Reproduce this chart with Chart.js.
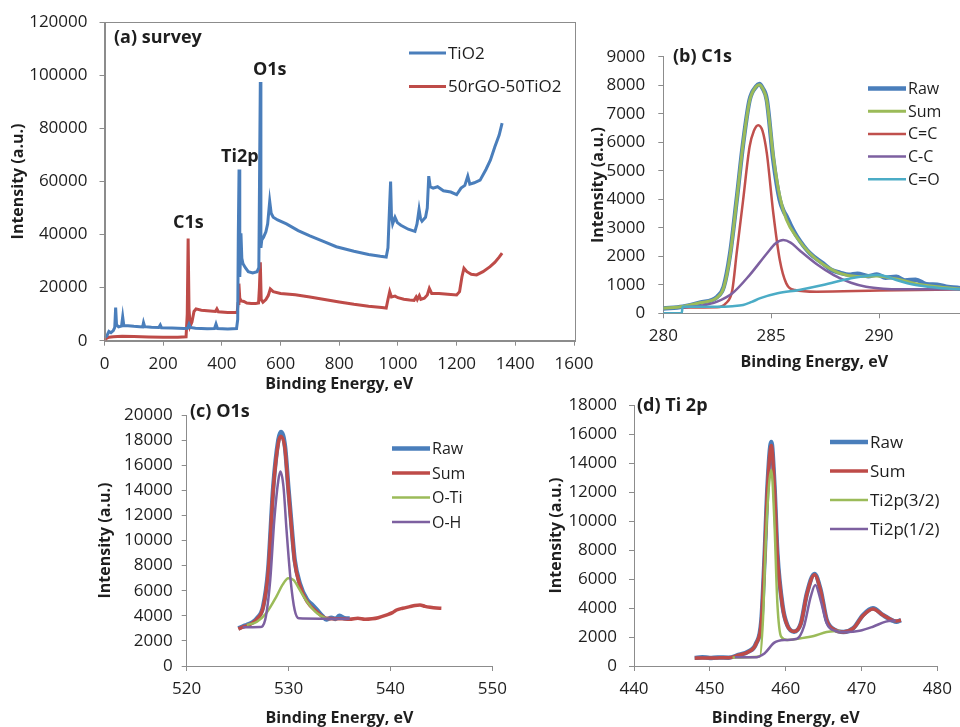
<!DOCTYPE html>
<html>
<head>
<meta charset="utf-8">
<script src="https://cdn.jsdelivr.net/npm/chart.js@4.4.1/dist/chart.umd.min.js"></script>
<style>
  html, body { margin: 0; padding: 0; background: #fff; overflow: hidden; }
  body { width: 960px; height: 727px; position: relative; }
  canvas { position: absolute; left: 0; top: 0; }
</style>
</head>
<body>
<canvas id="survey" width="960" height="727"></canvas>
<canvas id="c1s" width="1000" height="727"></canvas>
<canvas id="o1s" width="960" height="727"></canvas>
<canvas id="ti2p" width="960" height="727"></canvas>
<script>
// (a) survey spectra (eV, counts)
const surveyTiO2X = [0, 8, 15, 22, 30, 35, 38, 41, 48, 58, 62, 66, 80, 100, 120, 130, 133, 137, 160, 185, 190, 194, 230, 270, 283, 288, 292, 310, 350, 375, 380, 385, 420, 450, 454, 456, 458.5, 461, 463, 465, 468, 472, 480, 490, 505, 520, 526, 529, 531, 533, 536, 542, 550, 556, 563, 568, 575, 590, 620, 660, 700, 750, 790, 850, 900, 940, 960, 966, 972, 975, 978, 982, 990, 998, 1010, 1035, 1058, 1065, 1072, 1077, 1082, 1094, 1100, 1105, 1110, 1120, 1135, 1155, 1180, 1200, 1215, 1228, 1238, 1245, 1260, 1280, 1300, 1315, 1330, 1345, 1355];
const surveyTiO2Y = [1200, 1800, 3500, 3000, 3800, 5000, 12500, 6000, 5200, 5500, 9000, 5600, 5600, 5400, 5300, 5200, 6800, 5300, 5100, 5000, 5900, 4900, 4800, 4600, 4700, 6200, 5000, 4700, 4500, 4600, 6300, 4600, 4400, 4600, 8000, 40000, 64500, 24000, 30000, 40500, 31000, 29000, 27500, 26000, 25500, 26000, 27500, 70000, 97500, 35000, 38000, 39000, 41000, 44000, 52500, 48000, 46500, 45500, 44000, 41500, 39500, 37200, 35400, 33700, 32500, 31800, 31500, 35000, 52000, 60000, 47000, 44000, 46500, 44500, 43500, 42000, 41200, 44000, 49500, 46000, 45000, 46500, 50000, 62000, 58000, 57500, 58000, 56500, 56000, 55000, 57500, 58500, 62000, 59000, 59500, 60500, 64500, 68000, 73000, 77500, 82000];
const surveyRgoX = [0, 5, 15, 30, 60, 100, 150, 200, 250, 278, 282, 285, 288, 292, 298, 305, 312, 330, 360, 378, 383, 388, 420, 452, 455, 458, 461, 466, 475, 485, 500, 515, 525, 528, 531, 534, 540, 550, 558, 565, 575, 600, 650, 700, 750, 800, 850, 900, 945, 960, 966, 972, 978, 990, 1000, 1020, 1040, 1055, 1062, 1066, 1073, 1078, 1090, 1100, 1107, 1115, 1140, 1170, 1200, 1210, 1218, 1225, 1235, 1250, 1268, 1290, 1314, 1330, 1345, 1355];
const surveyRgoY = [0, 800, 1300, 1500, 1700, 1600, 1400, 1300, 1300, 1500, 10000, 38500, 12000, 5500, 7000, 11000, 12000, 11500, 11200, 11000, 12000, 10900, 10600, 10600, 14000, 21500, 16000, 15000, 14800, 14200, 14000, 14000, 14200, 20000, 29500, 15500, 14500, 15500, 17000, 19500, 18500, 17800, 17300, 16500, 15500, 14600, 13700, 13000, 12500, 12300, 15500, 18500, 16500, 16800, 16200, 15600, 15300, 15200, 16500, 15500, 17000, 15600, 16000, 17200, 19700, 17800, 17800, 17500, 17200, 18500, 24000, 27300, 26000, 25000, 24800, 26000, 27900, 29500, 31500, 33000];

// (b) C1s
const c1sRawX = [280, 280.9, 281.7, 282.5, 282.8, 283.1, 283.4, 283.7, 284.0, 284.3, 284.45, 284.6, 284.8, 285.1, 285.4, 285.6, 285.7, 285.9, 286.2, 286.8, 287.4, 287.8, 288.2, 288.6, 289.0, 289.5, 289.9, 290.3, 290.8, 291.2, 291.7, 292.2, 292.7, 293.2, 293.75, 294];
const c1sRawY = [170, 230, 370, 580, 930, 2100, 3970, 5960, 7480, 7950, 8040, 7900, 7480, 5380, 3970, 3550, 3420, 3100, 2690, 2100, 1750, 1520, 1420, 1350, 1390, 1300, 1360, 1250, 1280, 1150, 1180, 1020, 1000, 920, 880, 820];
const c1sSumX = [280, 280.9, 281.7, 282.5, 282.8, 283.1, 283.4, 283.7, 284.0, 284.3, 284.45, 284.6, 284.8, 285.1, 285.4, 285.7, 286.2, 286.8, 287.4, 288.2, 289.0, 289.9, 290.8, 291.7, 292.7, 293.75, 294];
const c1sSumY = [175, 240, 370, 560, 900, 2050, 3950, 5950, 7450, 7950, 8020, 7900, 7450, 5500, 4100, 3300, 2650, 2100, 1720, 1400, 1290, 1310, 1200, 1040, 930, 850, 830];
const c1sCdcX = [280.9, 282.5, 282.9, 283.2, 283.4, 283.7, 284.0, 284.2, 284.4, 284.6, 284.8, 285.1, 285.4, 285.7, 286.1, 287.1, 290, 294];
const c1sCdcY = [200, 210, 350, 820, 2100, 3970, 5840, 6400, 6600, 6400, 5610, 3510, 1870, 1050, 820, 760, 800, 840];
const c1sCscX = [280.9, 281.7, 282.5, 283.2, 284.0, 284.8, 285.2, 285.56, 285.9, 286.3, 287.1, 287.9, 288.7, 289.4, 290.2, 291, 294];
const c1sCscY = [210, 260, 410, 700, 1340, 2100, 2450, 2570, 2480, 2220, 1730, 1340, 1070, 930, 860, 840, 840];
const c1sCoX = [280, 280.85, 280.9, 282.5, 283.2, 283.7, 284.1, 284.5, 285.3, 286.3, 287.4, 288.7, 289.3, 289.9, 290.3, 290.8, 291.7, 292.7, 293.75, 294];
const c1sCoY = [0, 0, 230, 230, 250, 290, 400, 530, 700, 820, 990, 1230, 1300, 1340, 1300, 1170, 990, 900, 840, 830];

// (c) O1s
const o1sRawX = [525.07, 525.5, 525.9, 526.4, 526.9, 527.5, 528.0, 528.5, 529.0, 529.25, 529.65, 529.97, 530.3, 530.6, 531.1, 531.8, 532.3, 532.8, 533.3, 533.7, 534.2, 534.6, 535.0, 535.5, 536.0];
const o1sRawY = [3000, 3150, 3270, 3450, 3800, 4730, 7650, 14290, 18010, 18650, 17480, 14290, 11100, 8450, 6590, 5300, 4900, 4460, 4000, 3700, 3850, 3750, 4000, 3800, 3780];
const o1sSumX = [525.07, 525.5, 525.9, 526.4, 526.9, 527.5, 528.0, 528.5, 529.0, 529.25, 529.65, 529.97, 530.3, 530.6, 531.1, 531.8, 532.8, 533.7, 534.5, 535.3, 536.0, 536.8, 537.5, 538.2, 538.8, 539.6, 540.2, 540.6, 541.2, 541.9, 542.4, 542.9, 543.4, 543.9, 544.5, 545.0];
const o1sSumY = [2950, 3100, 3200, 3400, 3750, 4650, 7500, 14100, 17800, 18300, 17300, 14100, 10900, 8300, 6450, 5150, 4300, 3800, 3760, 3770, 3720, 3800, 3720, 3760, 3850, 4060, 4250, 4460, 4600, 4730, 4820, 4860, 4750, 4680, 4620, 4600];
const o1sOTiX = [525.9, 526.9, 527.8, 528.8, 529.4, 529.97, 530.5, 531.1, 531.8, 532.8, 533.7, 534.0];
const o1sOTiY = [3270, 3530, 4200, 5520, 6460, 7000, 6850, 6060, 5130, 4200, 3800, 3750];
const o1sOHX = [525.5, 527.2, 527.7, 528.2, 528.6, 529.0, 529.2, 529.5, 529.8, 530.2, 530.6, 531.0, 533.1, 536.0];
const o1sOHY = [3080, 3100, 3670, 6850, 11640, 14820, 15500, 14290, 10840, 6850, 4460, 3800, 3770, 3770];

// (d) Ti 2p
const ti2pEnergy = [448, 449, 450, 451, 452.5, 453.75, 455.05, 456.1, 456.8, 457.2, 457.6, 458.1, 458.5, 458.9, 459.6, 460.2, 461.1, 462.0, 462.8, 463.8, 464.6, 465.4, 466.5, 467.6, 468.9, 470.2, 471.5, 472.8, 474.1, 474.6, 475.2];
const ti2pRawY = [560, 600, 560, 590, 575, 760, 990, 1560, 3170, 7310, 12370, 15450, 12600, 7770, 4090, 2830, 2370, 2940, 5010, 6350, 5240, 3170, 2480, 2340, 2600, 3520, 3980, 3520, 3130, 3050, 3170];
const ti2pSumY = [540, 560, 550, 560, 570, 740, 970, 1540, 3130, 7250, 12250, 15200, 12450, 7650, 4050, 2800, 2380, 2920, 4980, 6300, 5200, 3150, 2480, 2350, 2590, 3480, 3930, 3520, 3150, 3100, 3150];
const ti2p32X = [453, 456.6, 457.0, 457.4, 457.8, 458.1, 458.5, 458.9, 459.4, 460.2, 462.0, 463.7, 465.4, 467.2];
const ti2p32Y = [580, 650, 3170, 8920, 12500, 13520, 10070, 4320, 2020, 1790, 1910, 2070, 2340, 2430];
const ti2p12X = [453.3, 455.9, 457.2, 458.5, 459.8, 461.5, 462.4, 463.3, 463.9, 464.6, 465.4, 466.5, 468.0, 469.75, 471.5, 473.2, 474.5];
const ti2p12Y = [600, 600, 870, 1610, 1790, 1880, 2710, 4780, 5590, 4550, 2940, 2430, 2340, 2430, 2710, 3060, 3130];

// axis ranges: [min, max, step]
const surveyXAxis = [0, 1600, 200], surveyYAxis = [0, 120000, 20000];
const c1sXAxis = [280, 294, 5], c1sYAxis = [0, 9000, 1000];
const o1sXAxis = [520, 550, 10], o1sYAxis = [0, 20000, 2000];
const ti2pXAxis = [440, 480, 10], ti2pYAxis = [0, 18000, 2000];

const BLUE = '#4a7ebb', RED = '#be4b48', GREEN = '#9bbb59', PURPLE = '#7d60a0', CYAN = '#4bacc6';
const TEXT = '#1e1e1e', AXIS = '#8c8c8c';
const FONT = '"Open Sans", "Liberation Sans", sans-serif';

function pts(xs, ys) {
  return xs.map((x, i) => ({ x: x, y: ys[i] }));
}

function line(label, xs, ys, color, width, order) {
  return {
    label: label, data: pts(xs, ys), borderColor: color, backgroundColor: color,
    borderWidth: width, pointRadius: 0, fill: false, order: order,
    cubicInterpolationMode: 'monotone'
  };
}

// draws panel captions, peak labels, legend and frame
const overlay = {
  id: 'overlay',
  afterDatasetsDraw(chart, args, o) {
    const ctx = chart.ctx;
    ctx.save();
    ctx.fillStyle = TEXT;
    ctx.textBaseline = 'middle';
    (o.texts || []).forEach(t => {
      ctx.font = 'bold ' + t.size + 'px ' + FONT;
      ctx.textAlign = 'left';
      ctx.fillText(t.text, t.x, t.y);
    });
    if (o.legend) {
      const lg = o.legend;
      chart.data.datasets.forEach((ds, i) => {
        const y = lg.y + i * lg.gap;
        ctx.strokeStyle = ds.borderColor;
        ctx.lineWidth = ds.borderWidth;
        ctx.beginPath();
        ctx.moveTo(lg.x, y);
        ctx.lineTo(lg.x + lg.len, y);
        ctx.stroke();
        ctx.font = lg.size + 'px ' + FONT;
        ctx.fillStyle = TEXT;
        ctx.textAlign = 'left';
        ctx.fillText(ds.label, lg.x + lg.len + 2, y + 1);
      });
    }
    if (o.frame) {
      const a = chart.chartArea;
      ctx.strokeStyle = AXIS;
      ctx.lineWidth = 1;
      ctx.strokeRect(Math.round(a.left) + 0.5, Math.round(a.top) + 0.5, Math.round(a.right - a.left), Math.round(a.bottom - a.top));
    }
    ctx.restore();
  }
};

function panel(p, xAxis, yAxis, datasets, extras) {
  const tickFont = { family: FONT, size: 17 };
  const titleFont = { family: FONT, size: 16, weight: 'bold', lineHeight: 1.2 };
  const half = 16 * 1.2 / 2;
  const padLeft = p.yTitleX - half;
  const padBottom = p.canvasH - (p.xTitleY + half);
  return {
    type: 'line',
    data: { datasets: datasets },
    plugins: [overlay],
    options: {
      responsive: false,
      animation: false,
      events: [],
      layout: { padding: { left: padLeft, top: p.top, right: p.canvasW - p.right, bottom: padBottom } },
      plugins: { legend: { display: false }, tooltip: { enabled: false }, overlay: extras },
      scales: {
        x: {
          type: 'linear', min: xAxis[0], max: xAxis[1],
          ticks: { stepSize: xAxis[2], includeBounds: false, autoSkip: false, maxRotation: 0,
                   padding: 8, color: TEXT, font: tickFont, callback: v => String(v) },
          grid: { drawOnChartArea: false, drawTicks: true, tickLength: 5, color: AXIS },
          border: { color: AXIS, width: 1 },
          title: { display: true, text: 'Binding Energy, eV', color: TEXT, font: titleFont, padding: 0 },
          afterFit: s => { s.height = p.xTitleY + half - p.bottom; }
        },
        y: {
          type: 'linear', min: yAxis[0], max: yAxis[1],
          ticks: { stepSize: yAxis[2], autoSkip: false, padding: p.yPad, color: TEXT, font: tickFont,
                   callback: v => String(v) },
          grid: { drawOnChartArea: false, drawTicks: true, tickLength: 5, color: AXIS },
          border: { color: AXIS, width: 1 },
          title: { display: true, text: 'Intensity (a.u.)', color: TEXT, font: titleFont, padding: 0 },
          afterFit: s => { s.width = p.left - padLeft; }
        }
      }
    }
  };
}

window.onload = function() {
  // (a) survey
  new Chart(document.getElementById('survey'), panel(
    { left: 104.5, top: 22, right: 574, bottom: 340.7, yTitleX: 18, xTitleY: 384, yPad: 12, canvasW: 960, canvasH: 727 },
    surveyXAxis, surveyYAxis,
    [
      { ...line('TiO2', surveyTiO2X, surveyTiO2Y, BLUE, 3, 1), cubicInterpolationMode: 'default', tension: 0 },
      { ...line('50rGO-50TiO2', surveyRgoX, surveyRgoY, RED, 3, 2), cubicInterpolationMode: 'default', tension: 0 }
    ],
    {
      texts: [
        { text: '(a) survey', x: 114, y: 38, size: 18 },
        { text: 'O1s', x: 253, y: 70, size: 18 },
        { text: 'Ti2p', x: 221, y: 157, size: 18 },
        { text: 'C1s', x: 173, y: 223, size: 18 }
      ],
      legend: { x: 409, y: 53, gap: 33.5, len: 37, size: 17 },
      frame: true
    }
  ));

  // (b) C1s
  new Chart(document.getElementById('c1s'), panel(
    { left: 663.3, top: 56.7, right: 965.3, bottom: 313.3, yTitleX: 598, xTitleY: 362, yPad: 13, canvasW: 1000, canvasH: 727 },
    c1sXAxis, c1sYAxis,
    [
      line('Raw', c1sRawX, c1sRawY, BLUE, 4.5, 5),
      line('Sum', c1sSumX, c1sSumY, GREEN, 3, 4),
      line('C=C', c1sCdcX, c1sCdcY, '#c0504d', 2.5, 3),
      line('C-C', c1sCscX, c1sCscY, PURPLE, 2.5, 2),
      line('C=O', c1sCoX, c1sCoY, CYAN, 2.5, 1)
    ],
    {
      texts: [{ text: '(b) C1s', x: 673, y: 57, size: 18 }],
      legend: { x: 868, y: 88.5, gap: 22.7, len: 38, size: 16 }
    }
  ));

  // (c) O1s
  new Chart(document.getElementById('o1s'), panel(
    { left: 186.7, top: 415, right: 492.3, bottom: 666, yTitleX: 105, xTitleY: 718, yPad: 9, canvasW: 960, canvasH: 727 },
    o1sXAxis, o1sYAxis,
    [
      line('Raw', o1sRawX, o1sRawY, BLUE, 4.5, 4),
      line('Sum', o1sSumX, o1sSumY, RED, 3.5, 3),
      line('O-Ti', o1sOTiX, o1sOTiY, GREEN, 2.5, 2),
      line('O-H', o1sOHX, o1sOHY, PURPLE, 2.5, 1)
    ],
    {
      texts: [{ text: '(c) O1s', x: 190, y: 412, size: 18 }],
      legend: { x: 392, y: 448.5, gap: 24.5, len: 38, size: 16 }
    }
  ));

  // (d) Ti 2p
  new Chart(document.getElementById('ti2p'), panel(
    { left: 634, top: 405, right: 942.3, bottom: 666, yTitleX: 556, xTitleY: 718, yPad: 12, canvasW: 960, canvasH: 727 },
    ti2pXAxis, ti2pYAxis,
    [
      line('Raw', ti2pEnergy, ti2pRawY, BLUE, 4.5, 4),
      line('Sum', ti2pEnergy, ti2pSumY, RED, 3.5, 3),
      line('Ti2p(3/2)', ti2p32X, ti2p32Y, GREEN, 2.5, 2),
      line('Ti2p(1/2)', ti2p12X, ti2p12Y, PURPLE, 2.5, 1)
    ],
    {
      texts: [{ text: '(d) Ti 2p', x: 637, y: 406, size: 18 }],
      legend: { x: 830, y: 442, gap: 29, len: 38, size: 17 }
    }
  ));
};
</script>
</body>
</html>
